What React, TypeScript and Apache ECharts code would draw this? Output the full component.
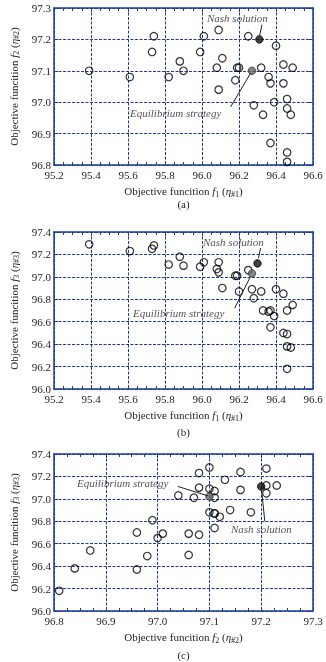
import React, { useEffect, useRef } from "react";
import * as echarts from "echarts";

// (a) f1 vs f2
const aF1 = [95.39, 95.61, 95.74, 95.73, 95.82, 95.88, 95.90, 95.99, 96.01, 96.09, 96.08, 96.11, 96.09, 96.18, 96.19, 96.20, 96.25, 96.32, 96.28, 96.36, 96.37, 96.40, 96.39, 96.44, 96.49, 96.44, 96.46, 96.46, 96.33, 96.48, 96.37, 96.46, 96.46];
const aF2 = [97.10, 97.08, 97.21, 97.16, 97.08, 97.13, 97.10, 97.16, 97.21, 97.23, 97.11, 97.14, 97.04, 97.07, 97.11, 97.11, 97.21, 97.11, 96.99, 97.08, 97.06, 97.18, 97.00, 97.12, 97.11, 97.06, 97.01, 96.98, 96.96, 96.96, 96.87, 96.84, 96.81];
const aNash = [96.31, 97.20];
const aEq = [96.27, 97.10];

// (b) f1 vs f3
const bF1 = [95.39, 95.61, 95.74, 95.73, 95.82, 95.88, 95.90, 95.99, 96.01, 96.09, 96.08, 96.09, 96.11, 96.18, 96.19, 96.20, 96.25, 96.27, 96.28, 96.32, 96.40, 96.44, 96.33, 96.36, 96.37, 96.39, 96.46, 96.49, 96.37, 96.44, 96.46, 96.46, 96.48, 96.46];
const bF3 = [97.29, 97.23, 97.28, 97.25, 97.11, 97.18, 97.10, 97.09, 97.13, 97.13, 97.07, 97.04, 96.90, 97.01, 97.01, 96.87, 97.06, 96.89, 96.81, 96.87, 96.89, 96.85, 96.70, 96.69, 96.70, 96.65, 96.70, 96.75, 96.55, 96.50, 96.49, 96.38, 96.37, 96.18];
const bNash = [96.30, 97.12];
const bEq = [96.27, 97.03];

// (c) f2 vs f3
const cF2 = [97.10, 97.08, 97.16, 97.21, 97.13, 97.08, 97.10, 97.11, 97.16, 97.21, 97.23, 97.21, 97.04, 97.07, 97.11, 97.10, 97.11, 97.11, 97.12, 97.14, 97.18, 97.11, 96.99, 96.96, 97.01, 97.00, 97.06, 97.08, 96.87, 96.84, 96.81, 96.96, 96.98, 97.06];
const cF3 = [97.28, 97.23, 97.24, 97.27, 97.17, 97.10, 97.09, 97.07, 97.08, 97.12, 97.12, 97.05, 97.03, 97.01, 97.01, 96.88, 96.87, 96.87, 96.84, 96.90, 96.88, 96.74, 96.81, 96.70, 96.69, 96.65, 96.69, 96.68, 96.54, 96.38, 96.18, 96.37, 96.49, 96.50];
const cNash = [97.20, 97.11];
const cEq = [97.10, 97.02];

// leader lines (data coords): [from, to]
const aNashLine = [[96.324, 97.247], [96.312, 97.213]];
const aEqLine = [[96.263, 97.093], [96.155, 96.985]];
const bNashLine = [[96.317, 97.257], [96.305, 97.168]];
const bEqLine = [[96.258, 96.99], [96.177, 96.722]];
const cEqLine = [[97.039, 97.111], [97.097, 97.027]];
const cNashLine = [[97.2, 97.111], [97.207, 96.798]];

const BLUE = "#1d3c96";
const FONT = "Liberation Serif";

const rich = {
  n: { fontFamily: FONT, fontSize: 11, color: "#222", lineHeight: 14 },
  i: { fontFamily: FONT, fontSize: 11, fontStyle: "italic", color: "#222", lineHeight: 14 },
  s: { fontFamily: FONT, fontSize: 8, color: "#222", lineHeight: 8, verticalAlign: "bottom" },
};
const nameOf = (k: number) => `{n|Objective funcition }{i|f}{s|${k}}{n| (}{i|η}{s|#${k}}{n|)}`;

const grids = [
  { left: 54, width: 259, top: 8, height: 157 },
  { left: 54, width: 259, top: 232, height: 157 },
  { left: 54, width: 259, top: 454, height: 157 },
];

const xRanges = [
  { min: 95.2, max: 96.6, interval: 0.2, k: 1 },
  { min: 95.2, max: 96.6, interval: 0.2, k: 1 },
  { min: 96.8, max: 97.3, interval: 0.1, k: 2 },
];
const yRanges = [
  { min: 96.8, max: 97.3, interval: 0.1, k: 2 },
  { min: 96.0, max: 97.4, interval: 0.2, k: 3 },
  { min: 96.0, max: 97.4, interval: 0.2, k: 3 },
];

export default function App() {
  const ref = useRef<HTMLDivElement>(null);
  useEffect(() => {
    if (!ref.current) return;
    const chart = echarts.init(ref.current, null, { renderer: "svg" });
    const xAxis: any[] = [];
    const yAxis: any[] = [];
    for (let g = 0; g < 3; g++) {
      const xr = xRanges[g];
      const yr = yRanges[g];
      const baseX = {
        type: "value",
        gridIndex: g,
        min: xr.min,
        max: xr.max,
        interval: xr.interval,
        axisLine: { show: true, onZero: false, lineStyle: { color: BLUE, width: 1.5 } },
        axisTick: { show: true, inside: true, length: 4, lineStyle: { color: BLUE, width: 1 } },
        minorTick: { show: true, splitNumber: 4, length: 3, lineStyle: { color: BLUE, width: 1 } },
        splitLine: { show: false },
      };
      xAxis.push({
        ...baseX,
        position: "bottom",
        name: nameOf(xr.k),
        nameLocation: "middle",
        nameGap: 19,
        nameTextStyle: { rich },
        axisLabel: { fontFamily: FONT, fontSize: 11, color: "#222", margin: 4, formatter: (v: number) => v.toFixed(1) },
        splitLine: { show: true, lineStyle: { color: BLUE, type: [3, 1.5], width: 1 } },
      });
      xAxis.push({ ...baseX, position: "top", axisLabel: { show: false } });
      const baseY = {
        type: "value",
        gridIndex: g,
        min: yr.min,
        max: yr.max,
        interval: yr.interval,
        axisLine: { show: true, onZero: false, lineStyle: { color: BLUE, width: 1.5 } },
        axisTick: { show: true, inside: true, length: 4, lineStyle: { color: BLUE, width: 1 } },
        splitLine: { show: false },
      };
      yAxis.push({
        ...baseY,
        position: "left",
        name: nameOf(yr.k),
        nameLocation: "middle",
        nameGap: 33,
        nameRotate: 90,
        nameTextStyle: { rich },
        axisLabel: { fontFamily: FONT, fontSize: 11, color: "#222", margin: 3, formatter: (v: number) => v.toFixed(1) },
        splitLine: { show: true, lineStyle: { color: BLUE, type: [3, 1.5], width: 1 } },
      });
      yAxis.push({ ...baseY, position: "right", axisLabel: { show: false } });
    }

    const sets = [
      { xs: aF1, ys: aF2, nash: aNash, eq: aEq, lines: [aNashLine, aEqLine] },
      { xs: bF1, ys: bF3, nash: bNash, eq: bEq, lines: [bNashLine, bEqLine] },
      { xs: cF2, ys: cF3, nash: cNash, eq: cEq, lines: [cNashLine, cEqLine] },
    ];
    const series: any[] = [];
    sets.forEach((s, g) => {
      series.push({
        type: "scatter",
        xAxisIndex: g * 2,
        yAxisIndex: g * 2,
        symbol: "circle",
        symbolSize: 7.5,
        itemStyle: { color: "rgba(0,0,0,0)", borderColor: "#000", borderWidth: 1.2 },
        data: s.xs.map((x, i) => [x, s.ys[i]]),
        markLine: {
          silent: true,
          symbol: "none",
          label: { show: false },
          lineStyle: { color: "#222", width: 1, type: "solid" },
          data: s.lines.map((l) => [{ coord: l[0] }, { coord: l[1] }]),
        },
      });
      series.push({
        type: "scatter",
        xAxisIndex: g * 2,
        yAxisIndex: g * 2,
        symbol: "circle",
        symbolSize: 7.5,
        z: 3,
        itemStyle: { color: "#666", borderColor: "#333", borderWidth: 1 },
        data: [s.eq],
      });
      series.push({
        type: "scatter",
        xAxisIndex: g * 2,
        yAxisIndex: g * 2,
        symbol: "circle",
        symbolSize: 7.5,
        z: 3,
        itemStyle: { color: "#111", borderColor: "#000", borderWidth: 1 },
        data: [s.nash],
      });
    });

    const ann = (text: string, x: number, y: number, align = "left") => ({
      type: "text",
      x,
      y,
      style: { text, fill: "#555", font: `italic 11px "${FONT}"`, textAlign: align, textVerticalAlign: "middle" },
    });
    const cap = (text: string, y: number) => ({
      type: "text",
      x: 183.5,
      y,
      style: { text, fill: "#222", font: `11px "${FONT}"`, textAlign: "center", textVerticalAlign: "middle" },
    });

    chart.setOption({
      animation: false,
      grid: grids.map((g) => ({ ...g, containLabel: false })),
      xAxis,
      yAxis,
      series,
      graphic: [
        ann("Nash solution", 207, 18),
        ann("Equilibrium strategy", 130, 113),
        ann("Nash solution", 203, 242),
        ann("Equilibrium strategy", 133, 313),
        ann("Equilibrium strategy", 77, 483),
        ann("Nash solution", 231, 529),
        cap("(a)", 204),
        cap("(b)", 432),
        cap("(c)", 655),
      ],
    });
    return () => chart.dispose();
  }, []);
  return <div ref={ref} style={{ position: "fixed", left: 0, top: 0, width: 326, height: 662 }} />;
}
